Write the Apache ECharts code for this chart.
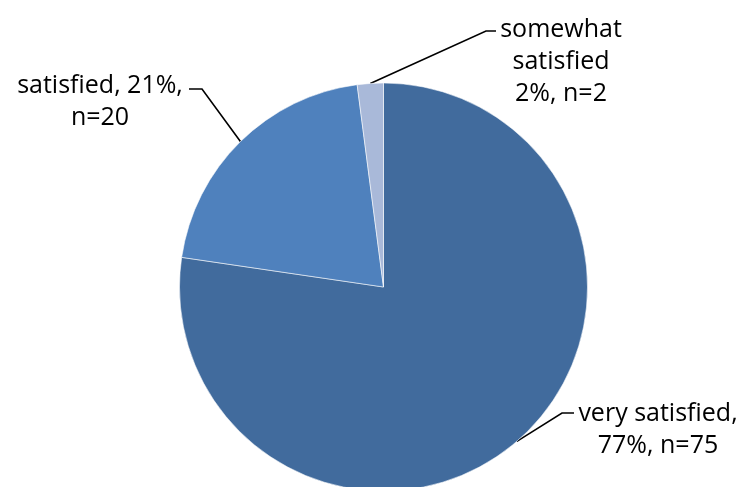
<!DOCTYPE html>
<html>
<head>
<meta charset="utf-8">
<script src="https://cdn.jsdelivr.net/npm/echarts@6/dist/echarts.min.js"></script>
<style>
  html, body { margin: 0; padding: 0; background: #ffffff; }
  #chart { width: 742px; height: 487px; }
</style>
</head>
<body>
<div id="chart"></div>
<script>
// Satisfaction responses
const categories = ['very satisfied', 'satisfied', 'somewhat satisfied'];
const counts = [75, 20, 2];
const sliceColors = ['#416B9D', '#4F81BD', '#A9B9D9'];

// Label text templates ({b} name, {d} percent, {c} count)
const labelFormats = [
  '{b},\n{d}%, n={c}',
  '{b}, {d}%,\nn={c}',
  'somewhat\nsatisfied\n{d}%, n={c}'
];

// Label anchor (centre of text block) and leader-line elbow per slice
const labelCentres = [[658, 430], [100, 102], [561, 62]];
const elbows = [
  [[562, 413], [574, 413]],
  [[202, 89], [189, 89]],
  [[486, 31], [496, 31]]
];

const chart = echarts.init(document.getElementById('chart'), null, { renderer: 'canvas' });

const seriesData = categories.map((name, i) => ({
  name: name,
  value: counts[i],
  itemStyle: { color: sliceColors[i] },
  label: { formatter: labelFormats[i] }
}));

chart.setOption({
  animation: false,
  series: [{
    type: 'pie',
    center: [383.5, 287],
    radius: [0, 204],
    startAngle: 90,
    clockwise: true,
    percentPrecision: 0,
    avoidLabelOverlap: false,
    itemStyle: { borderColor: 'rgba(255,255,255,0.55)', borderWidth: 1 },
    label: {
      show: true,
      position: 'outside',
      color: '#000000',
      fontFamily: '"Open Sans", Lato, sans-serif',
      fontSize: 25,
      lineHeight: 32,
      align: 'center'
    },
    labelLine: {
      show: true,
      length: 20,
      length2: 10,
      smooth: false,
      lineStyle: { color: '#000000', width: 1.6 }
    },
    emphasis: { disabled: true },
    labelLayout: function (params) {
      const i = params.dataIndex;
      const start = params.labelLinePoints ? params.labelLinePoints[0] : null;
      const out = {
        x: labelCentres[i][0],
        y: labelCentres[i][1],
        align: 'center',
        verticalAlign: 'middle'
      };
      if (start) {
        out.labelLinePoints = [[start[0], start[1]], elbows[i][0], elbows[i][1]];
      }
      return out;
    },
    data: seriesData
  }]
});
</script>
</body>
</html>
